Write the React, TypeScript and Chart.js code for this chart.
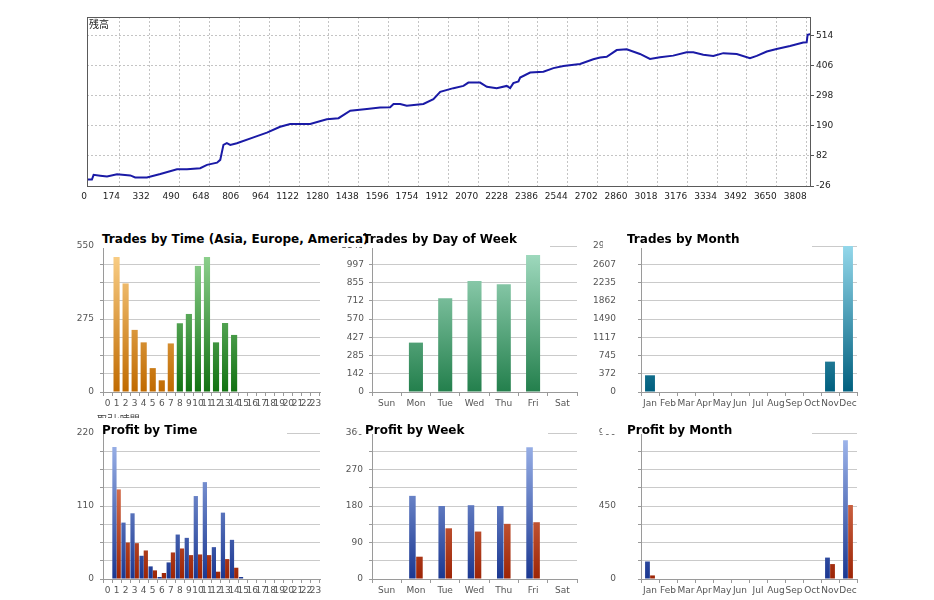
import React, { useEffect, useRef } from 'react';
import { Chart, registerables } from 'chart.js';

Chart.register(...registerables);

const AXIS_FONT = 'DejaVu Sans';
const TITLE_FONT = '"DejaVu Sans", sans-serif';
const CJK_FONT = '"Noto Sans CJK JP", "Noto Sans CJK SC", sans-serif';

// ---------- Balance curve (top chart) ----------
const balanceX = [
  0, 26, 35, 70, 106, 159, 229, 255, 317, 388, 476, 529, 599, 635, 688, 705, 722, 740, 758, 793,
  881, 952, 1022, 1075, 1181, 1269, 1331, 1393, 1481, 1551, 1604, 1622, 1657, 1692, 1780, 1833,
  1869, 1939, 1992, 2018, 2080, 2116, 2168, 2221, 2239, 2256, 2283, 2292, 2345, 2415, 2468, 2521,
  2609, 2679, 2715, 2750, 2803, 2856, 2926, 2979, 3032, 3102, 3173, 3208, 3261, 3314, 3367, 3438,
  3508, 3544, 3597, 3649, 3720, 3790, 3808, 3813, 3831,
];
const balanceY = [
  -3, -3, 14, 11, 8, 16, 12, 5, 5, 17, 34, 34, 38, 50, 58, 68, 122, 128, 122, 128,
  149, 166, 187, 197, 197, 214, 218, 245, 251, 256, 257, 269, 269, 263, 269, 286,
  313, 326, 334, 346, 346, 331, 326, 334, 326, 344, 350, 364, 382, 385, 398, 406,
  413, 430, 436, 439, 463, 466, 449, 431, 437, 443, 455, 455, 446, 442, 452, 449,
  434, 442, 458, 467, 478, 490, 491, 518, 521,
];
const balanceXTicks = [
  0, 174, 332, 490, 648, 806, 964, 1122, 1280, 1438, 1596, 1754, 1912, 2070, 2228, 2386, 2544,
  2702, 2860, 3018, 3176, 3334, 3492, 3650, 3808,
];
const balanceYTicks = [-26, 82, 190, 298, 406, 514];
const balanceXRange = [0, 3831];
const balanceYRange = [-26, 582];
const balanceLabel = '残高';

// ---------- Hours ----------
const hourLabels = [
  '0', '1', '2', '3', '4', '5', '6', '7', '8', '9', '10', '11', '12', '13', '14', '15', '16',
  '17', '18', '19', '20', '21', '22', '23',
];
const hourSession = [
  'asia', 'asia', 'asia', 'asia', 'asia', 'asia', 'asia', 'asia',
  'europe', 'europe', 'europe', 'europe', 'europe', 'europe', 'europe',
  'america', 'america', 'america', 'america', 'america', 'america', 'america', 'america', 'america',
];
const tradesByHour = [0, 509, 409, 234, 187, 90, 44, 183, 259, 294, 475, 509, 187, 260, 215, 0, 0, 0, 0, 0, 0, 0, 0, 0];
const tradesByHourMax = 550;
const tradesByHourTicks = ['0', '', '', '', '275', '', '', '', '550'];

const profitByHour = [0, 199, 85, 99, 35, 19, 3, 25, 67, 62, 125, 146, 48, 100, 59, 3, 0, 0, 0, 0, 0, 0, 0, 0];
const lossByHour = [0, 135, 55, 54, 43, 13, 9, 40, 46, 36, 37, 36, 11, 30, 17, 0, 0, 0, 0, 0, 0, 0, 0, 0];
const profitByHourMax = 220;
const profitByHourTicks = ['0', '', '', '', '110', '', '', '', '220'];

// ---------- Weekdays ----------
const weekdayLabels = ['Sun', 'Mon', 'Tue', 'Wed', 'Thu', 'Fri', 'Sat'];
const tradesByWeekday = [0, 386, 732, 868, 842, 1071, 0];
const tradesByWeekdayMax = 1141;
const tradesByWeekdayTicks = ['0', '142', '285', '427', '570', '712', '855', '997', '1141'];

const profitByWeekday = [0, 205, 180, 182, 180, 325, 0];
const lossByWeekday = [0, 55, 125, 117, 136, 140, 0];
const profitByWeekdayMax = 360;
const profitByWeekdayTicks = ['0', '', '90', '', '180', '', '270', '', '360'];

// ---------- Months ----------
const monthLabels = ['Jan', 'Feb', 'Mar', 'Apr', 'May', 'Jun', 'Jul', 'Aug', 'Sep', 'Oct', 'Nov', 'Dec'];
const tradesByMonth = [341, 0, 0, 0, 0, 0, 0, 0, 0, 0, 620, 2980];
const tradesByMonthMax = 2980;
const tradesByMonthTicks = ['0', '372', '745', '1117', '1490', '1862', '2235', '2607', '2980'];

const profitByMonth = [108, 0, 0, 0, 0, 0, 0, 0, 0, 0, 132, 855];
const lossByMonth = [22, 0, 0, 0, 0, 0, 0, 0, 0, 0, 92, 456];
const profitByMonthMax = 900;
const profitByMonthTicks = ['0', '', '', '', '450', '', '', '', '900'];

// ---------- helpers ----------
function vGrad(top: string, bottom: string) {
  return (c: any) => {
    const chart = c.chart;
    const a = chart.chartArea;
    if (!a) return bottom;
    const g = chart.ctx.createLinearGradient(0, a.bottom, 0, a.top);
    g.addColorStop(0, bottom);
    g.addColorStop(1, top);
    return g;
  };
}

const sessionGrad: Record<string, any> = {
  asia: vGrad('#fdd48e', '#c06a00'),
  europe: vGrad('#96d796', '#127212'),
  america: vGrad('#92b2ee', '#1f4cae'),
};
const blueGrad = vGrad('#a3baee', '#1a3791');
const redGrad = vGrad('#f59a78', '#9c2405');
const greenGrad = vGrad('#a6dec4', '#237f4c');
const tealGrad = vGrad('#93d7ea', '#005f7e');

const framePlugin = {
  id: 'frame',
  afterDraw(chart: any, _args: any, opts: any) {
    const { ctx, chartArea: a } = chart;
    ctx.save();
    ctx.strokeStyle = opts.color || '#555';
    ctx.lineWidth = 1;
    ctx.strokeRect(Math.round(a.left) + 0.5, Math.round(a.top) + 0.5, Math.round(a.right - a.left) - 1, Math.round(a.bottom - a.top));
    ctx.restore();
  },
};

// ---------- Top chart ----------
const TOP_W = 934;
const TOP_H = 215;

function BalanceChart() {
  const ref = useRef<HTMLCanvasElement>(null);
  useEffect(() => {
    const chart = new Chart(ref.current as HTMLCanvasElement, {
      type: 'line',
      data: {
        datasets: [
          {
            data: balanceX.map((x, i) => ({ x, y: balanceY[i] })),
            borderColor: '#1a1aa6',
            borderWidth: 2,
            pointRadius: 0,
            tension: 0,
            fill: false,
          },
        ],
      },
      plugins: [framePlugin],
      options: {
        animation: false,
        responsive: false,
        maintainAspectRatio: false,
        layout: { padding: { left: 87, right: 83, top: 17, bottom: 9 } },
        plugins: { legend: { display: false }, tooltip: { enabled: false }, frame: { color: '#5a5a5a' } } as any,
        scales: {
          x: {
            type: 'linear',
            min: balanceXRange[0],
            max: balanceXRange[1],
            afterBuildTicks: (s: any) => {
              s.ticks = balanceXTicks.map((v) => ({ value: v }));
            },
            afterFit: (s: any) => {
              s.height = 20;
            },
            ticks: {
              align: 'end',
              autoSkip: false,
              maxRotation: 0,
              minRotation: 0,
              padding: 5,
              color: '#222',
              font: { family: AXIS_FONT, size: 9 },
              callback: (v: any) => String(v),
            },
            grid: { color: '#c4c4c4', drawTicks: false },
            border: { display: false, dash: [2, 2] },
          },
          y: {
            type: 'linear',
            position: 'right',
            min: balanceYRange[0],
            max: balanceYRange[1],
            afterBuildTicks: (s: any) => {
              s.ticks = balanceYTicks.map((v) => ({ value: v }));
            },
            afterFit: (s: any) => {
              s.width = 40;
            },
            ticks: {
              padding: 2,
              color: '#222',
              font: { family: AXIS_FONT, size: 9 },
              callback: (v: any) => String(v),
            },
            grid: { color: '#c4c4c4', tickLength: 3, tickColor: '#555', tickBorderDash: [] } as any,
            border: { display: false, dash: [2, 2] },
          },
        },
      } as any,
    });
    return () => chart.destroy();
  }, []);
  return (
    <canvas
      ref={ref}
      width={TOP_W}
      height={TOP_H}
      style={{ position: 'absolute', left: 0, top: 0, width: TOP_W, height: TOP_H }}
    />
  );
}

// ---------- Bar panels ----------
const YW = 50;
const PT = 12;
const PR = 8;
const XH = 22;

type Series = { values: number[]; color: any };
type PanelSpec = {
  rect: { L: number; T: number; R: number; B: number };
  labels: string[];
  max: number;
  tickLabels: string[];
  labelPad: number;
  catPct: number;
  barPct: number;
  series: Series[];
};

const panels: PanelSpec[] = [
  {
    rect: { L: 103, T: 246, R: 320, B: 392 },
    labels: hourLabels,
    max: tradesByHourMax,
    tickLabels: tradesByHourTicks,
    labelPad: 6,
    catPct: 1,
    barPct: 0.68,
    series: [{ values: tradesByHour, color: (c: any) => sessionGrad[hourSession[c.dataIndex]](c) }],
  },
  {
    rect: { L: 372, T: 246, R: 577, B: 392 },
    labels: weekdayLabels,
    max: tradesByWeekdayMax,
    tickLabels: tradesByWeekdayTicks,
    labelPad: 5,
    catPct: 1,
    barPct: 0.48,
    series: [{ values: tradesByWeekday, color: greenGrad }],
  },
  {
    rect: { L: 641, T: 246, R: 857, B: 392 },
    labels: monthLabels,
    max: tradesByMonthMax,
    tickLabels: tradesByMonthTicks,
    labelPad: 22,
    catPct: 1,
    barPct: 0.55,
    series: [{ values: tradesByMonth, color: tealGrad }],
  },
  {
    rect: { L: 103, T: 433, R: 320, B: 579 },
    labels: hourLabels,
    max: profitByHourMax,
    tickLabels: profitByHourTicks,
    labelPad: 6,
    catPct: 0.94,
    barPct: 1,
    series: [
      { values: profitByHour, color: blueGrad },
      { values: lossByHour, color: redGrad },
    ],
  },
  {
    rect: { L: 372, T: 433, R: 577, B: 579 },
    labels: weekdayLabels,
    max: profitByWeekdayMax,
    tickLabels: profitByWeekdayTicks,
    labelPad: 6,
    catPct: 0.48,
    barPct: 0.93,
    series: [
      { values: profitByWeekday, color: blueGrad },
      { values: lossByWeekday, color: redGrad },
    ],
  },
  {
    rect: { L: 641, T: 433, R: 857, B: 579 },
    labels: monthLabels,
    max: profitByMonthMax,
    tickLabels: profitByMonthTicks,
    labelPad: 22,
    catPct: 0.56,
    barPct: 0.95,
    series: [
      { values: profitByMonth, color: blueGrad },
      { values: lossByMonth, color: redGrad },
    ],
  },
];

function BarPanel({ spec }: { spec: PanelSpec }) {
  const ref = useRef<HTMLCanvasElement>(null);
  const { L, T, R, B } = spec.rect;
  const w = R - L + YW + PR;
  const h = B - T + PT + XH;
  useEffect(() => {
    const chart = new Chart(ref.current as HTMLCanvasElement, {
      type: 'bar',
      data: {
        labels: spec.labels,
        datasets: spec.series.map((s) => ({
          data: s.values,
          backgroundColor: s.color,
          borderWidth: 0,
          barPercentage: spec.barPct,
          categoryPercentage: spec.catPct,
        })),
      },
      options: {
        animation: false,
        responsive: false,
        maintainAspectRatio: false,
        layout: { padding: { left: 0, top: PT, right: PR, bottom: 0 } },
        plugins: { legend: { display: false }, tooltip: { enabled: false }, title: { display: false } },
        scales: {
          x: {
            type: 'category',
            offset: true,
            afterFit: (s: any) => {
              s.height = XH;
            },
            grid: { display: true, drawOnChartArea: false, drawTicks: true, tickLength: 4, color: '#9a9a9a', offset: true },
            border: { display: true, color: '#9a9a9a' },
            ticks: {
              autoSkip: false,
              maxRotation: 0,
              minRotation: 0,
              padding: 2,
              color: '#555',
              font: { family: AXIS_FONT, size: 9 },
            },
          },
          y: {
            type: 'linear',
            min: 0,
            max: spec.max,
            afterBuildTicks: (s: any) => {
              const n = spec.tickLabels.length - 1;
              s.ticks = spec.tickLabels.map((_, i) => ({ value: (spec.max * i) / n }));
            },
            afterFit: (s: any) => {
              s.width = YW;
              s.paddingTop = 6;
              s.paddingBottom = 6;
            },
            ticks: {
              padding: spec.labelPad,
              color: '#555',
              font: { family: AXIS_FONT, size: 9 },
              callback: (_v: any, i: number) => spec.tickLabels[i],
            },
            grid: { color: '#cacaca', tickLength: 3, tickColor: '#9a9a9a' },
            border: { display: true, color: '#9a9a9a' },
          },
        },
      } as any,
    });
    return () => chart.destroy();
  }, []);
  return (
    <canvas
      ref={ref}
      width={w}
      height={h}
      style={{ position: 'absolute', left: L - YW, top: T - PT, width: w, height: h }}
    />
  );
}

// ---------- Titles (HTML text over the panels) ----------
type TitleSpec = { text: string; x: number; top: number; box: [number, number, number, number]; bg?: boolean };
const titles: TitleSpec[] = [
  { text: 'Trades by Time (Asia, Europe, America)', x: 102, top: 230.5, box: [97, 231, 190, 17], bg: true },
  { text: 'Trades by Day of Week', x: 363, top: 230.5, box: [362, 231, 188, 17] },
  { text: 'Trades by Month', x: 627, top: 230.5, box: [603, 231, 209, 17] },
  { text: 'Profit by Time', x: 102, top: 421.5, box: [97, 418, 190, 16] },
  { text: 'Profit by Week', x: 365, top: 421.5, box: [358, 418, 190, 16] },
  { text: 'Profit by Month', x: 627, top: 421.5, box: [602, 418, 210, 16] },
];
const hourAxisCaption = '取引:時間';

export default function App() {
  return (
    <div
      style={{
        position: 'absolute',
        left: 0,
        top: 0,
        width: 934,
        height: 600,
        background: '#fff',
        overflow: 'hidden',
      }}
    >
      <BalanceChart />
      <div
        style={{
          position: 'absolute',
          left: 89,
          top: 18,
          fontFamily: CJK_FONT,
          fontSize: 10,
          lineHeight: '12px',
          color: '#222',
        }}
      >
        {balanceLabel}
      </div>
      {panels.map((p, i) => (
        <BarPanel key={i} spec={p} />
      ))}
      <div
        style={{
          position: 'absolute',
          left: 97,
          top: 413,
          fontFamily: CJK_FONT,
          fontSize: 10,
          lineHeight: '12px',
          color: '#444',
          whiteSpace: 'nowrap',
        }}
      >
        {hourAxisCaption}
      </div>
      {titles.map((t, i) => (
        <div
          key={'b' + i}
          style={{
            position: 'absolute',
            left: t.box[0],
            top: t.box[1],
            width: t.box[2],
            height: t.box[3],
            background: '#fff',
          }}
        />
      ))}
      {titles.map((t, i) => (
        <div
          key={'t' + i}
          style={{
            position: 'absolute',
            left: t.x,
            top: t.top,
            fontFamily: TITLE_FONT,
            fontWeight: 'bold',
            fontSize: 12,
            lineHeight: '16px',
            color: '#000',
            whiteSpace: 'nowrap',
            background: t.bg ? '#fff' : 'transparent',
          }}
        >
          {t.text}
        </div>
      ))}
    </div>
  );
}
